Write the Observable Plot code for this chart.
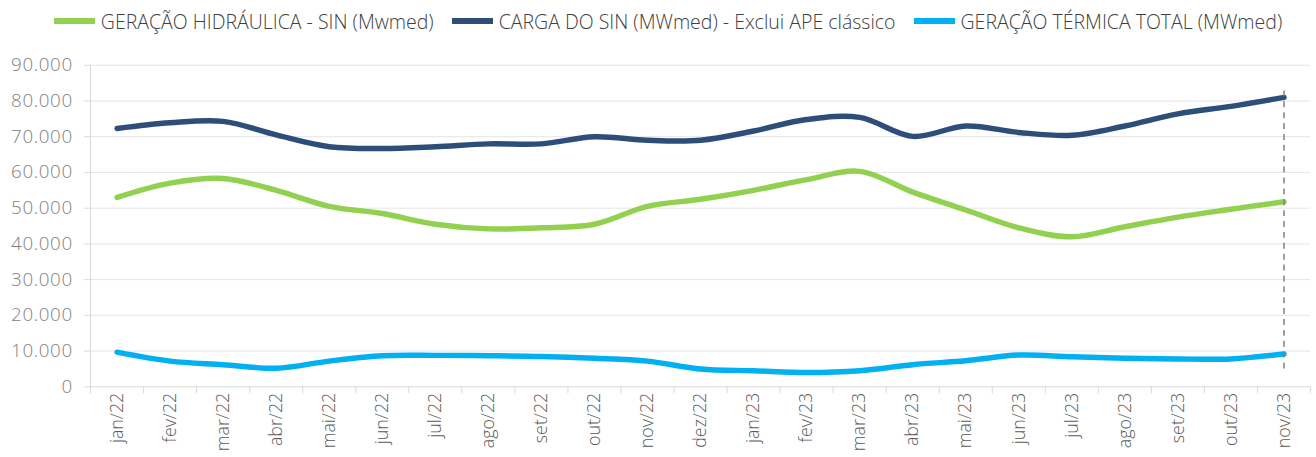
<!DOCTYPE html>
<html>
<head>
<meta charset="utf-8">
<script src="https://cdn.jsdelivr.net/npm/d3@7"></script>
<script src="https://cdn.jsdelivr.net/npm/@observablehq/plot@0.6"></script>
<style>
  html, body { margin: 0; padding: 0; background: #fff; overflow: hidden; width: 1316px; height: 457px; }
  body { font-family: "Open Sans", Lato, sans-serif; }
  #legend { height: 42px; display: flex; justify-content: center; align-items: center; gap: 18px; font-size: 19.5px; font-weight: 300; color: #404040; padding-left: 20px; box-sizing: border-box; width: 1316px; }
  .item { display: flex; align-items: center; gap: 6px; white-space: nowrap; }
  .sw { width: 41px; height: 6px; }
  #chart svg { display: block; }
  #chart svg g[aria-label="y-axis tick label"] text { letter-spacing: 0.6px; }
</style>
</head>
<body>
<div id="legend"></div>
<div id="chart"></div>
<script>
const months = ["jan/22","fev/22","mar/22","abr/22","mai/22","jun/22","jul/22","ago/22","set/22","out/22","nov/22","dez/22",
                "jan/23","fev/23","mar/23","abr/23","mai/23","jun/23","jul/23","ago/23","set/23","out/23","nov/23"];
const hidraulica = [53000,57000,58300,55000,50500,48500,45500,44200,44500,45500,50500,52500,
                    55000,58000,60300,54500,49500,44500,42000,44800,47500,49700,51800];
const carga = [72300,73900,74300,70500,67200,66700,67200,68000,68000,70000,69000,69000,
               71600,74800,75400,70100,73000,71200,70400,73000,76400,78500,81000];
const termica = [9700,7200,6200,5200,7200,8700,8800,8700,8500,8000,7200,5000,
                 4500,4000,4500,6200,7300,8900,8400,8000,7800,7800,9200];
const seriesNames = ["GERAÇÃO HIDRÁULICA - SIN (Mwmed)","CARGA DO SIN (MWmed) - Exclui APE clássico","GERAÇÃO TÉRMICA TOTAL (MWmed)"];
const seriesColors = ["#92d050","#2e4e7a","#00b0f0"];
const yTicks = [0,10000,20000,30000,40000,50000,60000,70000,80000,90000];
const markerMonth = "nov/23";
const markerRange = [5000, 83500];

const legend = document.getElementById("legend");
seriesNames.forEach((n, i) => {
  const it = document.createElement("div"); it.className = "item";
  const sw = document.createElement("div"); sw.className = "sw"; sw.style.background = seriesColors[i];
  const tx = document.createElement("span"); tx.textContent = n;
  it.appendChild(sw); it.appendChild(tx); legend.appendChild(it);
});

const rows = [];
[hidraulica, carga, termica].forEach((arr, s) => arr.forEach((v, i) => rows.push({i, v, s: seriesNames[s]})));
const idx = months.map((_, i) => i);
const bounds = months.map((_, i) => i - 0.5).concat([months.length - 0.5]);
const mi = months.indexOf(markerMonth);
const fmt = d => d === 0 ? "0" : d3.format(",")(d).replace(/,/g, ".");

const plot = Plot.plot({
  width: 1330, height: 415,
  marginLeft: 91, marginRight: 6, marginTop: 23, marginBottom: 67,
  style: {fontFamily: "'Open Sans', Lato, sans-serif", fontWeight: 300, background: "#fff"},
  x: {type: "linear", domain: [-0.5, months.length - 0.5]},
  y: {domain: [0, 90000]},
  color: {domain: seriesNames, range: seriesColors},
  marks: [
    Plot.gridY(yTicks.slice(1), {stroke: "#d9d9d9", strokeOpacity: 0.7}),
    Plot.ruleX([-0.5], {y1: 0, y2: 90000, stroke: "#d9d9d9"}),
    Plot.ruleY([0], {stroke: "#d9d9d9"}),
    Plot.axisY({ticks: yTicks, tickFormat: fmt, tickSize: 6, tickPadding: 12, stroke: "#d9d9d9", fill: "#7f7f7f", fontSize: 19, label: null}),
    Plot.axisX({ticks: bounds, tickFormat: () => "", tickSize: 7, stroke: "#d9d9d9", label: null}),
    Plot.axisX({ticks: idx, tickFormat: i => months[i], tickSize: 0, tickPadding: 6, tickRotate: -90, fill: "#595959", fontSize: 18, label: null}),
    Plot.line(rows, {x: "i", y: "v", z: "s", stroke: "s", strokeWidth: 5.5, curve: "catmull-rom"}),
    Plot.ruleX([mi], {y1: markerRange[0], y2: markerRange[1], stroke: "#808080", strokeWidth: 1.5, strokeDasharray: "6,5"})
  ]
});
document.getElementById("chart").appendChild(plot);
</script>
</body>
</html>
